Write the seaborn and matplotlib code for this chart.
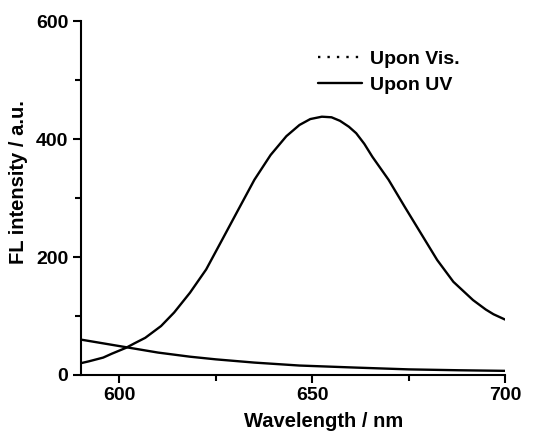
import pandas as pd
import seaborn as sns
import matplotlib
matplotlib.use('Agg')
import matplotlib.pyplot as plt
from matplotlib.lines import Line2D
from matplotlib.ticker import MultipleLocator

# spectra
uv_wavelength = [590, 592, 595.8, 598, 601.7, 604, 606.7, 610.8, 614.2, 618.3, 622.5, 626.7,
                 630.8, 635, 639.2, 643.3, 646.7, 649.5, 652.5, 655, 657.2, 659.5, 661.4,
                 663.5, 665.6, 669.8, 674, 678.2, 682.4, 686.6, 691.7, 695, 697, 700]
uv_intensity = [20, 23, 29.5, 36, 46, 54, 63, 83, 106, 139.5, 179, 230,
                280, 331, 373, 405, 424, 434, 438, 437, 431, 421, 410,
                392, 370, 331, 285, 240, 195, 158, 127, 111, 103, 94]

vis_wavelength = [590, 600, 610, 618.3, 625, 635, 646.7, 661.4, 675, 688, 700]
vis_intensity = [60, 49, 38, 31, 26.5, 21, 16, 12.5, 9.5, 8, 7]

legend_labels = ['Upon Vis.', 'Upon UV']

sns.set_style('ticks')
plt.rcParams['font.family'] = ['Liberation Sans', 'DejaVu Sans']
plt.rcParams['font.weight'] = 'bold'
plt.rcParams['text.color'] = 'black'
plt.rcParams['axes.labelcolor'] = 'black'
plt.rcParams['xtick.color'] = 'black'
plt.rcParams['ytick.color'] = 'black'
plt.rcParams['axes.edgecolor'] = 'black'

fig = plt.figure(figsize=(5.39, 4.32), dpi=100)
ax = fig.add_axes([0.150, 0.132, 0.787, 0.819])

uv = pd.DataFrame({'wl': uv_wavelength, 'fl': uv_intensity})
vis = pd.DataFrame({'wl': vis_wavelength, 'fl': vis_intensity})

sns.lineplot(data=vis, x='wl', y='fl', ax=ax, color='black', lw=1.7)
sns.lineplot(data=uv, x='wl', y='fl', ax=ax, color='black', lw=1.7)

ax.set_xlim(590, 700)
ax.set_ylim(0, 600)
ax.xaxis.set_major_locator(MultipleLocator(50))
ax.xaxis.set_minor_locator(MultipleLocator(25))
ax.yaxis.set_major_locator(MultipleLocator(200))
ax.yaxis.set_minor_locator(MultipleLocator(100))
ax.tick_params(which='major', direction='out', length=6, width=1.5, labelsize=14, pad=3)
ax.tick_params(which='minor', direction='out', length=4, width=1.5)
for lab in ax.get_xticklabels() + ax.get_yticklabels():
    lab.set_fontweight('bold')

sns.despine(ax=ax)
for s in ['left', 'bottom']:
    ax.spines[s].set_linewidth(1.5)

ax.set_xlabel('Wavelength / nm', fontsize=14.5, fontweight='bold')
ax.set_ylabel('FL intensity / a.u.', fontsize=14.5, fontweight='bold')
ax.xaxis.set_label_coords(0.573, -0.105)
ax.yaxis.set_label_coords(-0.125, 0.544)

handles = [Line2D([], [], color='black', lw=1.7, ls=(0, (1, 3))),
           Line2D([], [], color='black', lw=1.7)]
ax.legend(handles, legend_labels, loc='upper left', bbox_to_anchor=(0.559, 0.918),
          frameon=False, borderpad=0, borderaxespad=0, handlelength=2.27,
          handletextpad=0.4, labelspacing=0.42, prop={'weight': 'bold', 'size': 14})

fig.savefig('out.png', dpi=100)
